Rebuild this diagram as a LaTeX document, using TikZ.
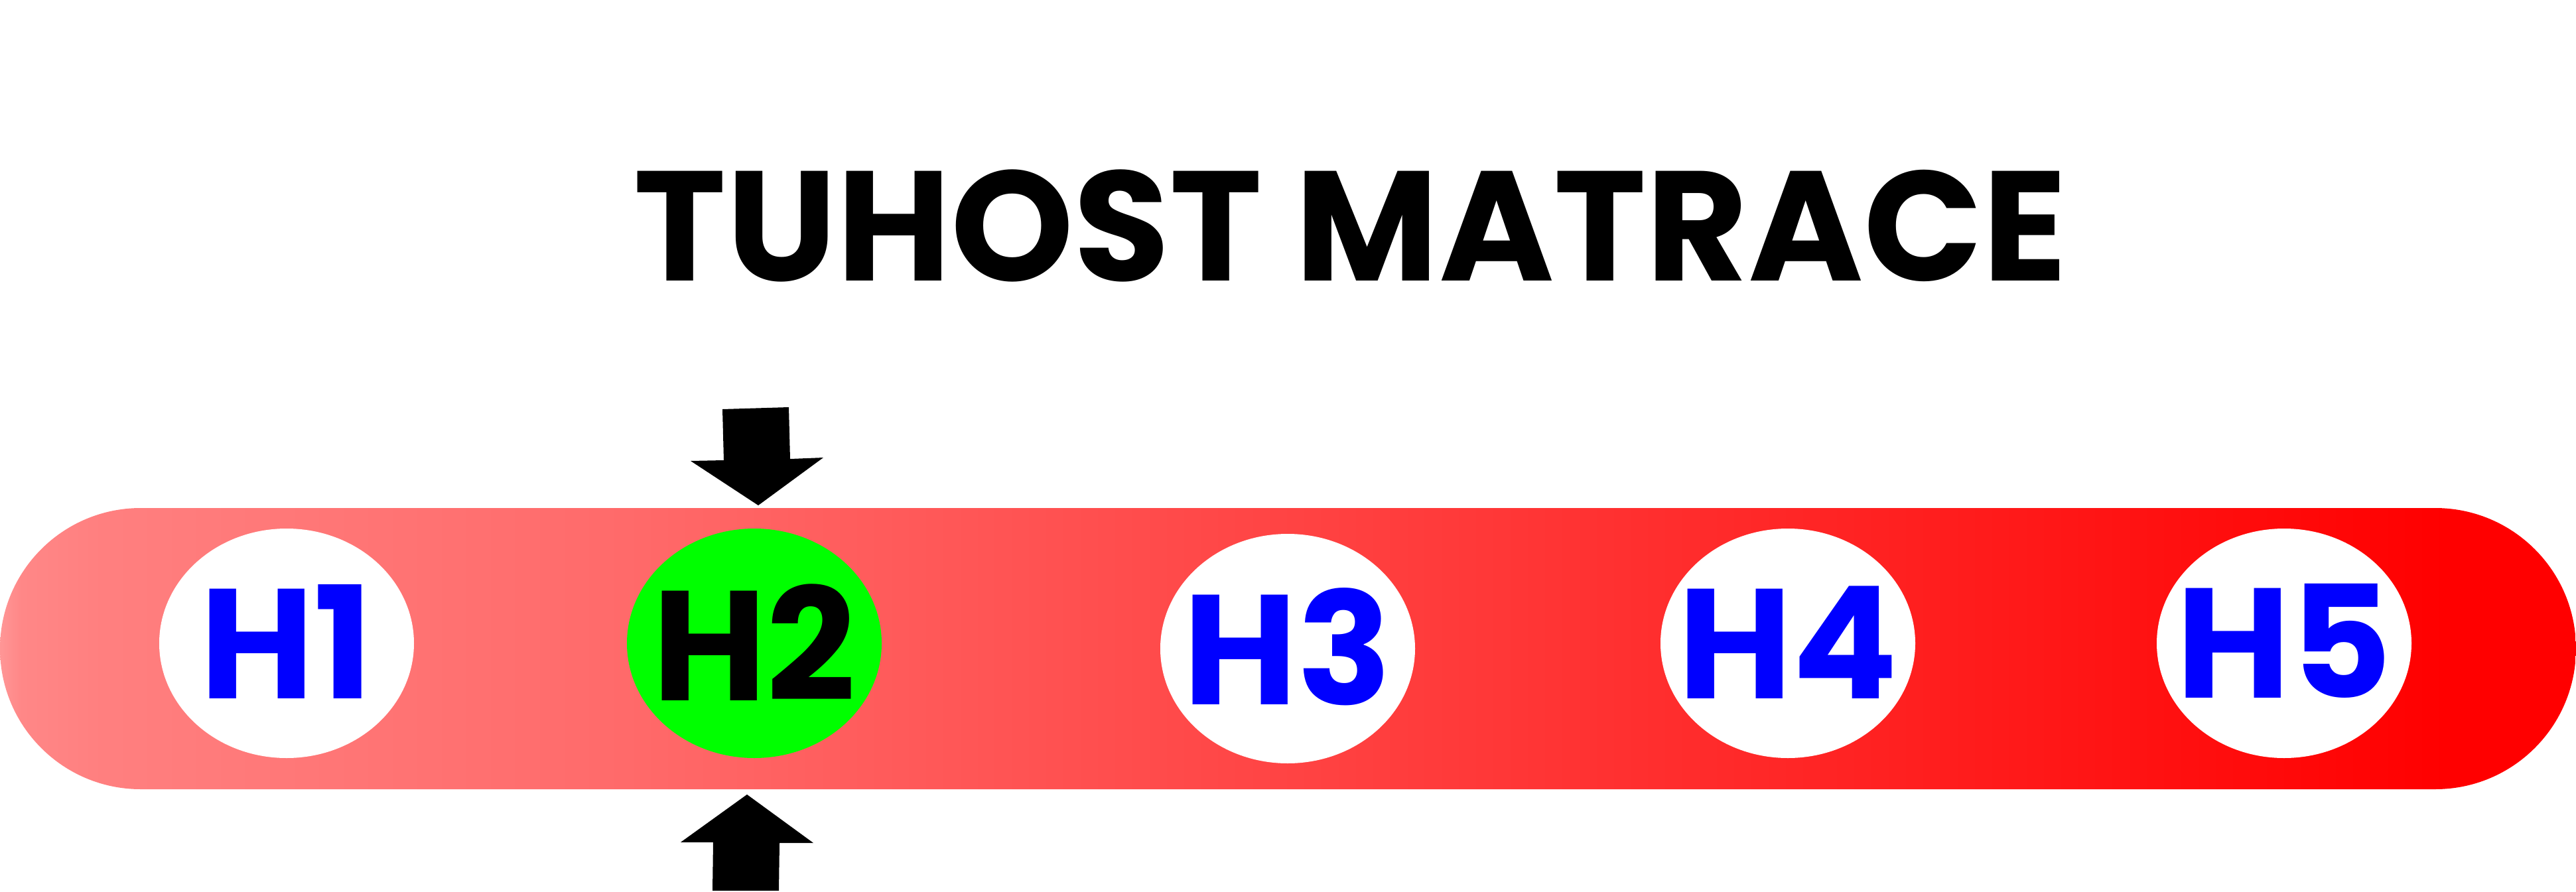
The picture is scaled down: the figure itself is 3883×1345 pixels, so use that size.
\documentclass[tikz,border=0pt]{standalone}
\usepackage{fontspec}
\newfontfamily\pop{Poppins}
\pgfdeclarehorizontalshading{barshade}{100bp}{rgb(0bp)=(1,0.59,0.59); rgb(25bp)=(1,0.59,0.59); rgb(25.4bp)=(1,0.53,0.53); rgb(26.9bp)=(1,0.5,0.5); rgb(37.1bp)=(1,0.416,0.416); rgb(72.5bp)=(1,0,0); rgb(100bp)=(1,0,0)}
\definecolor{lblblue}{RGB}{0,0,255}
\definecolor{lblgreen}{RGB}{0,255,0}
\tikzset{
  hole/.style={fill=white},
  lbl/.style={anchor=base, inner sep=0pt, text=lblblue, font=\pop\bfseries\fontsize{67}{67}\selectfont},
  titlestyle/.style={anchor=base, inner sep=0pt, font=\pop\bfseries\fontsize{67}{67}\selectfont},
  blockarrow/.style={fill=black}
}
\begin{document}
\begin{tikzpicture}[x=0.01cm,y=-0.01cm]
\useasboundingbox (0,0) rectangle (3883,1345);
% bar
\shade[shading=barshade, rounded corners=2.12cm] (0,766) rectangle (3883,1190);
% ellipses
\fill[hole] (432,970) ellipse [x radius=192, y radius=173];
\fill[lblgreen] (1137,970) ellipse [x radius=192, y radius=173];
\fill[hole] (1941,978) ellipse [x radius=192, y radius=173];
\fill[hole] (2695,970) ellipse [x radius=192, y radius=173];
\fill[hole] (3443,970) ellipse [x radius=192, y radius=173];
% labels
\node[lbl] (h1) at (432,1053) {H1};
\node[lbl, text=black] (h2) at (1137,1056) {H2};
\node[lbl] (h3) at (1941,1062) {H3};
\node[lbl] (h4) at (2695,1053) {H4};
\node[lbl] (h5) at (3443,1052) {H5};
% title
\node[titlestyle] (title) at (2036,423) {TUHOST MATRACE};
% arrows
\fill[blockarrow] (1089,617) -- (1189,614) -- (1191,692) -- (1241,690) -- (1143,762) -- (1041,695) -- (1091,694) -- cycle;
\fill[blockarrow] (1126,1198) -- (1226,1271) -- (1175,1271) -- (1174,1343) -- (1074,1343) -- (1075,1270) -- (1026,1270) -- cycle;
\end{tikzpicture}
\end{document}
